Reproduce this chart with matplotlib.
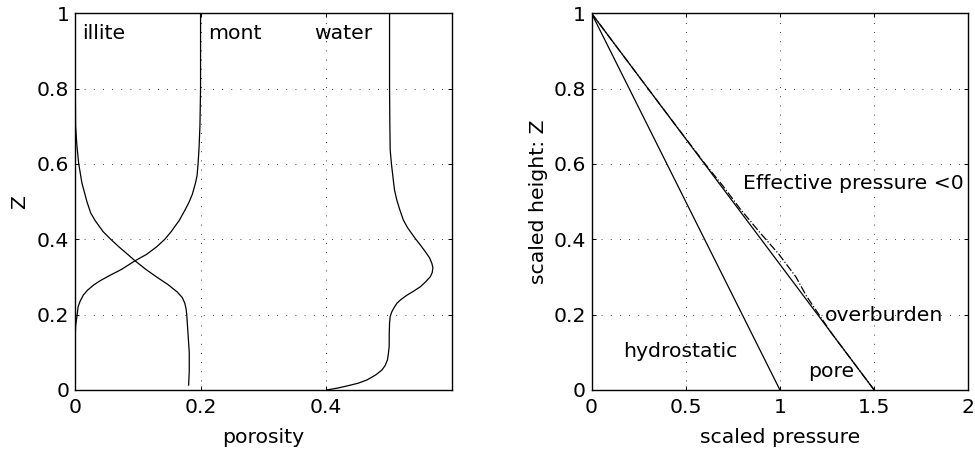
import matplotlib
matplotlib.use("Agg")
import matplotlib.pyplot as plt

plt.rcParams["font.family"] = ["DejaVu Sans"]
plt.rcParams["font.size"] = 14.7

# sol panel: gozeneklilik egrileri (z yukaridan asagi)
illite_z = [1.0, 0.9, 0.8, 0.7, 0.65, 0.6, 0.55, 0.5, 0.47, 0.45, 0.42, 0.40, 0.38, 0.36,
            0.343, 0.32, 0.30, 0.28, 0.26, 0.245, 0.23, 0.215, 0.2, 0.15, 0.1, 0.05, 0.013]
illite_x = [0.0, 0.0, 0.0005, 0.001, 0.003, 0.006, 0.011, 0.019, 0.025, 0.032, 0.045, 0.057,
            0.070, 0.084, 0.0956, 0.113, 0.130, 0.148, 0.163, 0.171, 0.175, 0.177, 0.178,
            0.180, 0.182, 0.182, 0.181]

mont_z = [1.0, 0.9, 0.8, 0.7, 0.64, 0.6, 0.57, 0.55, 0.52, 0.5, 0.48, 0.45, 0.42, 0.40,
          0.38, 0.36, 0.343, 0.32, 0.305, 0.29, 0.279, 0.265, 0.252, 0.235, 0.221, 0.194,
          0.17, 0.146, 0.1, 0.05, 0.01]
mont_x = [0.2, 0.2, 0.2, 0.199, 0.1975, 0.196, 0.1945, 0.192, 0.187, 0.182, 0.176, 0.166,
          0.153, 0.143, 0.130, 0.114, 0.0956, 0.074, 0.0565, 0.040, 0.030, 0.020, 0.0133,
          0.008, 0.005, 0.003, 0.001, 0.0005, 0.0, 0.0, 0.0]

water_z = [1.0, 0.9, 0.8, 0.7, 0.637, 0.6, 0.557, 0.53, 0.504, 0.48, 0.451, 0.43, 0.402,
           0.385, 0.367, 0.35, 0.336, 0.325, 0.312, 0.301, 0.288, 0.274, 0.262, 0.252, 0.24,
           0.23, 0.218, 0.208, 0.195, 0.177, 0.15, 0.115, 0.095, 0.08, 0.065, 0.053, 0.04,
           0.0265, 0.018, 0.0106, 0.005, 0.0]
water_x = [0.501, 0.501, 0.501, 0.5015, 0.502, 0.504, 0.507, 0.509, 0.5126, 0.517, 0.523,
           0.530, 0.542, 0.550, 0.558, 0.565, 0.5684, 0.570, 0.569, 0.566, 0.559, 0.550,
           0.539, 0.529, 0.519, 0.5126, 0.508, 0.5047, 0.502, 0.501, 0.5005, 0.5004, 0.499,
           0.4977, 0.494, 0.4888, 0.479, 0.4648, 0.451, 0.433, 0.418, 0.401]

# sag panel: basinc profilleri
hidro_z = [1.0, 0.0]
hidro_p = [0.0, 1.0]
yuk_z = [1.0, 0.0]
yuk_p = [0.0, 1.5]
gozenek_z = [1.0, 0.9, 0.8, 0.7, 0.6, 0.54, 0.48, 0.42, 0.36, 0.3, 0.25, 0.22,
             0.15, 0.1, 0.05, 0.0]
gozenek_p = [0.0, 0.15, 0.30, 0.451, 0.603, 0.70, 0.79, 0.89, 0.995, 1.085, 1.14, 1.18,
             1.275, 1.35, 1.425, 1.5]

z_ticks = [0, 0.2, 0.4, 0.6, 0.8, 1]
z_tick_labels = ["0", "0.2", "0.4", "0.6", "0.8", "1"]
por_ticks = [0, 0.2, 0.4]
por_tick_labels = ["0", "0.2", "0.4"]
p_ticks = [0, 0.5, 1, 1.5, 2]
p_tick_labels = ["0", "0.5", "1", "1.5", "2"]

fig = plt.figure(figsize=(9.75, 4.54), dpi=100)
ax1 = fig.add_axes([0.0769, 0.141, 0.3864, 0.8297])
ax2 = fig.add_axes([0.6067, 0.141, 0.3865, 0.8297])


def matlab_stili(ax):
    ax.grid(True, linestyle=(0, (1, 10)), color="black", linewidth=0.6)
    ax.tick_params(direction="in", top=True, right=True, length=3, width=0.7,
                   labelsize=14.7)
    ax.tick_params(axis="x", pad=6)
    ax.tick_params(axis="y", pad=4)
    for s in ax.spines.values():
        s.set_linewidth(1.0)


# sol grafik
ax1.plot(illite_x, illite_z, color="black", linewidth=0.9)
ax1.plot(mont_x, mont_z, color="black", linewidth=0.9)
ax1.plot(water_x, water_z, color="black", linewidth=0.9)
ax1.set_xlim(0, 0.6)
ax1.set_ylim(0, 1)
ax1.set_xticks(por_ticks)
ax1.set_xticklabels(por_tick_labels)
ax1.set_yticks(z_ticks)
ax1.set_yticklabels(z_tick_labels)
ax1.set_xlabel("porosity", labelpad=8)
ax1.set_ylabel("Z", labelpad=6)
ax1.text(0.012, 0.946, "illite", va="center")
ax1.text(0.2125, 0.946, "mont", va="center")
ax1.text(0.381, 0.946, "water", va="center")
matlab_stili(ax1)

# sag grafik
ax2.plot(hidro_p, hidro_z, color="black", linewidth=0.9)
ax2.plot(yuk_p, yuk_z, color="black", linewidth=0.9)
ax2.plot(gozenek_p, gozenek_z, color="black", linewidth=0.9, linestyle="-.")
ax2.set_xlim(0, 2)
ax2.set_ylim(0, 1)
ax2.set_xticks(p_ticks)
ax2.set_xticklabels(p_tick_labels)
ax2.set_yticks(z_ticks)
ax2.set_yticklabels(z_tick_labels)
ax2.set_xlabel("scaled pressure", labelpad=8)
ax2.set_ylabel("scaled height: Z", labelpad=4)
ax2.text(0.806, 0.548, "Effective pressure <0", va="center")
ax2.text(1.240, 0.199, "overburden", va="center")
ax2.text(0.166, 0.102, "hydrostatic", va="center")
ax2.text(1.152, 0.049, "pore", va="center")
matlab_stili(ax2)

fig.savefig("out.png", dpi=100)
